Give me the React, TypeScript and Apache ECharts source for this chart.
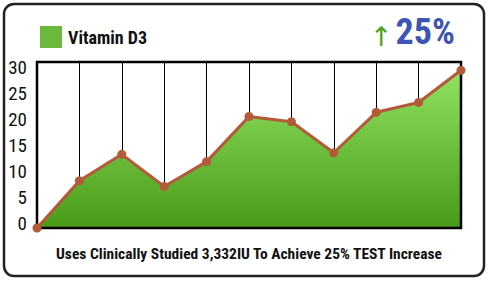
import React, { useEffect, useRef } from "react";
import * as echarts from "echarts";

const categories = ["P1", "P2", "P3", "P4", "P5", "P6", "P7", "P8", "P9", "P10", "P11"];
const values = [0, 9.1, 14.2, 8, 12.8, 21.5, 20.5, 14.5, 22.3, 24.2, 30.4];
const seriesName = "Vitamin D3";
const yTicks = [0, 5, 10, 15, 20, 25, 30];
const headline = "25%";
const footer = "Uses Clinically Studied 3,332IU To Achieve 25% TEST Increase";

const FONT = "'Roboto Condensed','Liberation Sans Narrow','DejaVu Sans Condensed',sans-serif";

export default function App() {
  const ref = useRef<HTMLDivElement>(null);
  useEffect(() => {
    const chart = echarts.init(ref.current!, null, { renderer: "svg" });
    chart.setOption({
      animation: false,
      backgroundColor: "#fff",
      graphic: [
        {
          type: "rect",
          shape: { x: 4, y: 4, width: 480, height: 272, r: 10 },
          style: { fill: "none", stroke: "#222", lineWidth: 2.5 },
          z: 0,
        },
      ],
      title: [
        {
          text: "{a|↑}{b|" + headline + "}",
          right: 28,
          top: 9,
          textStyle: {
            rich: {
              a: { color: "#4fa01e", fontSize: 27, fontWeight: "normal", fontFamily: "DejaVu Sans", padding: [8, 3, 0, 0] },
              b: { color: "#3d55b4", fontSize: 36, fontWeight: "bold", fontFamily: FONT },
            },
          },
        },
        {
          text: footer,
          left: 244,
          textAlign: "center",
          top: 241,
          textStyle: { color: "#111", fontSize: 15.5, fontWeight: "bold", fontFamily: FONT },
        },
      ],
      legend: {
        data: [{ name: seriesName, itemStyle: { color: "#6ab93a" } }],
        left: 35,
        top: 21,
        icon: "rect",
        itemWidth: 22,
        itemHeight: 22,
        itemGap: 10,
        textStyle: { color: "#111", fontSize: 18, fontWeight: "bold", fontFamily: FONT, padding: [0, 0, 0, 1] },
      },
      grid: {
        show: true,
        z: 3,
        left: 37,
        right: 27,
        top: 62,
        bottom: 53,
        backgroundColor: "transparent",
        borderColor: "#000",
        borderWidth: 2.5,
      },
      xAxis: {
        type: "category",
        data: categories,
        boundaryGap: false,
        axisLine: { show: false },
        axisTick: { show: false },
        axisLabel: { show: false },
        splitLine: { show: true, lineStyle: { color: "#000", width: 1 } },
      },
      yAxis: {
        type: "value",
        min: 0,
        max: 32,
        interval: 5,
        axisLine: { show: false },
        axisTick: { show: false },
        splitLine: { show: false },
        axisLabel: {
          color: "#111",
          fontSize: 19,
          fontFamily: FONT,
          margin: 10,
          verticalAlign: "bottom",
          lineHeight: 9,
          formatter: (v: number) => (yTicks.includes(v) ? String(v) : ""),
        },
      },
      series: [
        {
          name: seriesName,
          type: "line",
          data: values,
          z: 2,
          showSymbol: false,
          lineStyle: { width: 0 },
          itemStyle: { color: "#6ab93a" },
          areaStyle: {
            opacity: 1,
            color: new echarts.graphic.LinearGradient(0, 0, 0, 1, [
              { offset: 0, color: "#92e262" },
              { offset: 1, color: "#4a9a1a" },
            ]),
          },
        },
        {
          name: "line",
          type: "line",
          data: values,
          z: 5,
          symbol: "circle",
          symbolSize: 9,
          lineStyle: { color: "#b35a38", width: 3 },
          itemStyle: { color: "#b35a38" },
        },
      ],
    });
    return () => chart.dispose();
  }, []);
  return <div ref={ref} style={{ position: "fixed", left: 0, top: 0, width: 488, height: 281 }} />;
}
